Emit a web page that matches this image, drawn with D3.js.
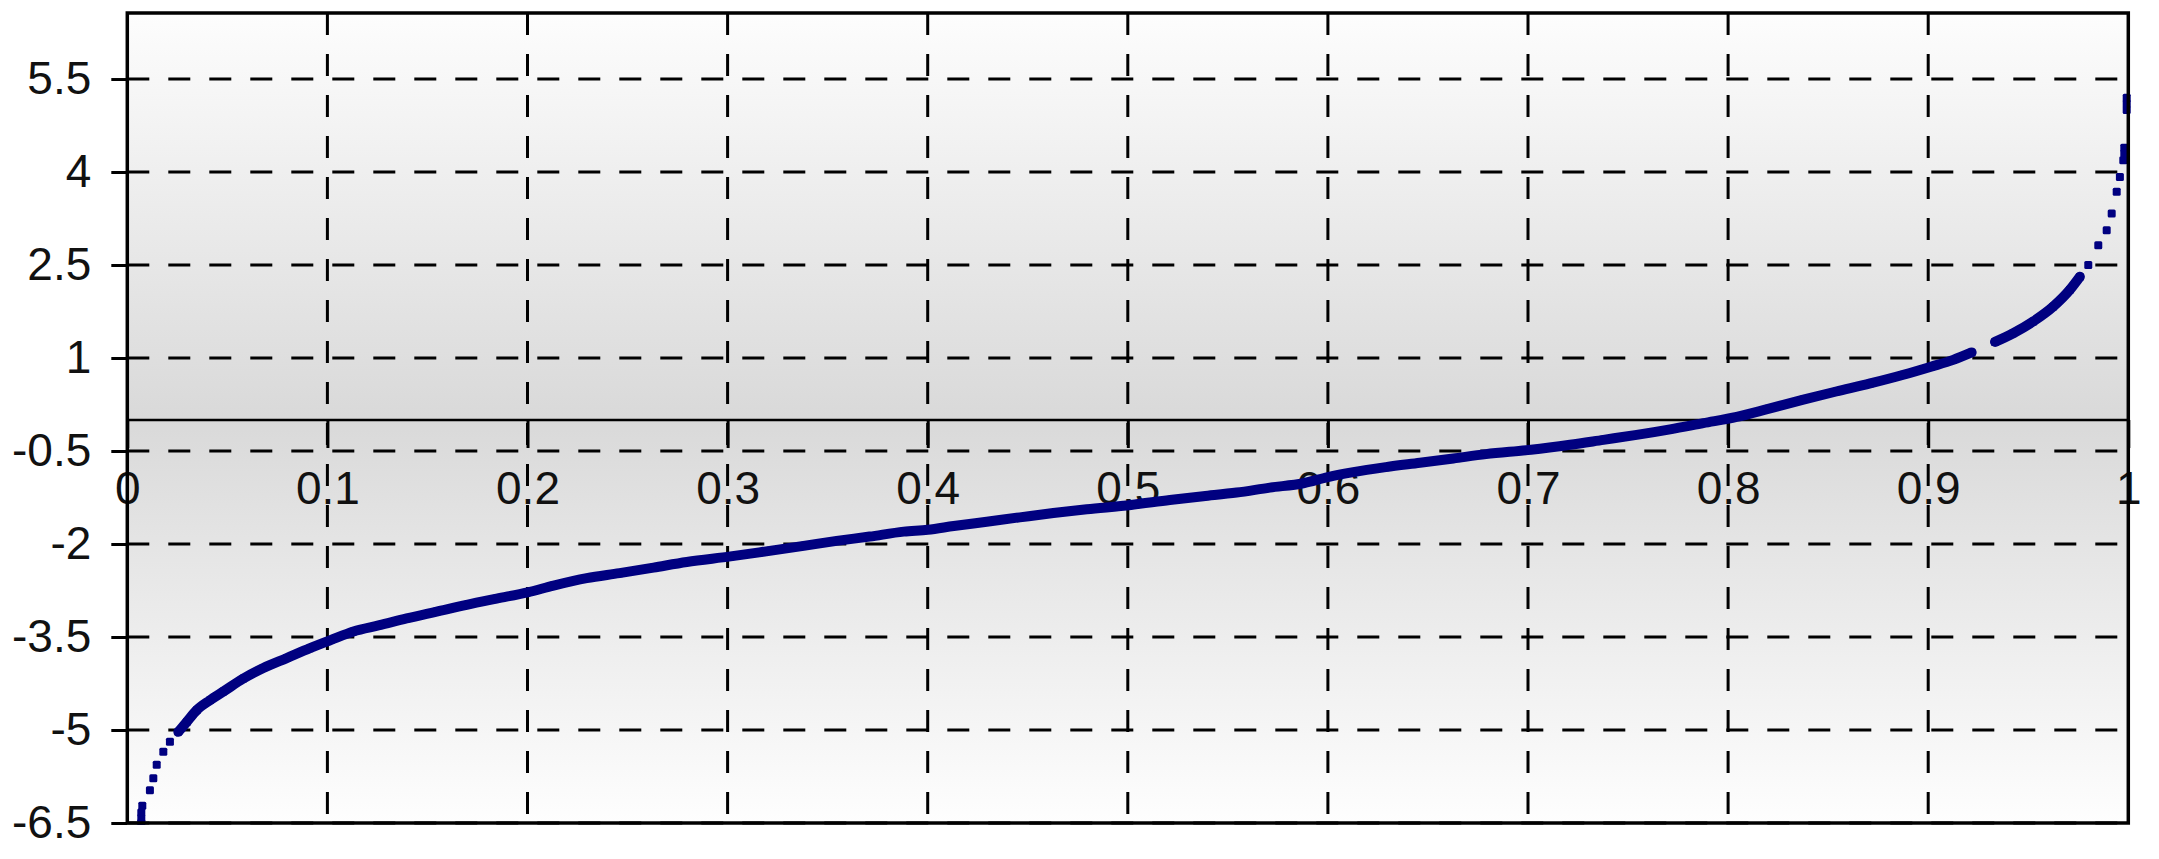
<!DOCTYPE html>
<html>
<head>
<meta charset="utf-8">
<script src="https://cdn.jsdelivr.net/npm/d3@7"></script>
<style>
  html, body { margin: 0; padding: 0; background: #ffffff; }
  svg { display: block; }
  text { font-family: "Liberation Sans", Arial, sans-serif; }
</style>
</head>
<body>
<svg id="chart" width="2159" height="859"></svg>
<script>
// ---- data ----
const quantiles = [
  0.007, 0.007, 0.007, 0.0075, 0.0113, 0.013, 0.0147, 0.018, 0.0213, 0.0255,
  0.0297, 0.0347, 0.0413, 0.048, 0.058, 0.068, 0.0797, 0.0913, 0.1016, 0.113,
  0.126, 0.1396, 0.1546, 0.1696, 0.1846, 0.2, 0.213, 0.2296, 0.246, 0.263,
  0.2796, 0.3015, 0.321, 0.338, 0.3545, 0.371, 0.388, 0.4, 0.413, 0.4295,
  0.446, 0.4628, 0.4795, 0.5016, 0.521, 0.5377, 0.5544, 0.571, 0.5877, 0.6,
  0.6127, 0.629, 0.646, 0.6627, 0.679, 0.7015, 0.721, 0.7377, 0.7543, 0.771,
  0.7876, 0.8043, 0.82, 0.8376, 0.854, 0.871, 0.8876, 0.9014, 0.9125, 0.9217,
  0.9334, 0.9425, 0.9525, 0.9625, 0.9708, 0.9758, 0.98, 0.985, 0.9892, 0.9917,
  0.9942, 0.9958, 0.9975, 0.998, 0.998, 0.9992, 0.9992, 0.9992
];
const values = [
  -6.5, -6.42, -6.33, -6.22, -5.97, -5.78, -5.56, -5.35, -5.19, -5.03,
  -4.87, -4.68, -4.52, -4.38, -4.17, -4.0, -3.84, -3.68, -3.55, -3.41,
  -3.31, -3.2, -3.09, -2.98, -2.88, -2.78, -2.67, -2.55, -2.47, -2.38,
  -2.29, -2.2, -2.11, -2.03, -1.95, -1.88, -1.8, -1.77, -1.71, -1.64,
  -1.57, -1.5, -1.44, -1.37, -1.29, -1.23, -1.17, -1.09, -1.02, -0.92,
  -0.84, -0.76, -0.69, -0.62, -0.55, -0.48, -0.40, -0.32, -0.24, -0.15,
  -0.05, 0.05, 0.18, 0.33, 0.46, 0.59, 0.73, 0.86, 0.97, 1.09,
  1.26, 1.40, 1.59, 1.83, 2.10, 2.31, 2.5, 2.82, 3.06, 3.33,
  3.68, 3.92, 4.19, 4.3, 4.39, 5.0, 5.1, 5.2
];
// dense stretches of the scatter (drawn as a continuous band)
const denseRanges = [[0.025, 0.925], [0.93, 0.977]];
const xTicks = [0, 0.1, 0.2, 0.3, 0.4, 0.5, 0.6, 0.7, 0.8, 0.9, 1];
const xTickLabels = ["0", "0.1", "0.2", "0.3", "0.4", "0.5", "0.6", "0.7", "0.8", "0.9", "1"];
const yTicks = [-6.5, -5, -3.5, -2, -0.5, 1, 2.5, 4, 5.5];
const yTickLabels = ["-6.5", "-5", "-3.5", "-2", "-0.5", "1", "2.5", "4", "5.5"];
const yMin = -6.5, yMax = 6.565;

// ---- layout ----
const pLeft = 127.3, pRight = 2128.3, pTop = 13, pBottom = 823;
const svg = d3.select("#chart");
const x = d3.scaleLinear().domain([0, 1]).range([pLeft, pRight]);
const y = d3.scaleLinear().domain([yMin, yMax]).range([pBottom, pTop]);

// background gradient
const defs = svg.append("defs");
const grad = defs.append("linearGradient").attr("id", "bg")
  .attr("x1", 0).attr("y1", 0).attr("x2", 0).attr("y2", 1);
grad.append("stop").attr("offset", "0%").attr("stop-color", "#fdfdfd");
grad.append("stop").attr("offset", "50%").attr("stop-color", "#d9d9d9");
grad.append("stop").attr("offset", "100%").attr("stop-color", "#fefefe");
defs.append("clipPath").attr("id", "clip").append("rect")
  .attr("x", pLeft).attr("y", pTop - 2).attr("width", pRight - pLeft + 4).attr("height", pBottom - pTop + 4);

svg.append("rect").attr("x", pLeft).attr("y", pTop)
  .attr("width", pRight - pLeft).attr("height", pBottom - pTop)
  .attr("fill", "url(#bg)");

// grid lines
const dash = "22,19";
svg.append("g").selectAll("line").data(yTicks).join("line")
  .attr("x1", pLeft).attr("x2", pRight)
  .attr("y1", d => y(d)).attr("y2", d => y(d))
  .attr("stroke", "#000").attr("stroke-width", 3).attr("stroke-dasharray", dash);
svg.append("g").selectAll("line").data(xTicks.slice(1, -1)).join("line")
  .attr("x1", d => x(d)).attr("x2", d => x(d))
  .attr("y1", pTop).attr("y2", pBottom)
  .attr("stroke", "#000").attr("stroke-width", 3).attr("stroke-dasharray", dash);

// y axis (ticks outside left)
const yAxis = d3.axisLeft(y).tickValues(yTicks)
  .tickFormat((d, i) => yTickLabels[i]).tickSize(16).tickPadding(20);
const gy = svg.append("g").attr("transform", `translate(${pLeft},0)`).call(yAxis);
gy.select(".domain").remove();
gy.selectAll(".tick line").attr("stroke", "#000").attr("stroke-width", 3);
gy.selectAll(".tick text").attr("font-size", 46).attr("fill", "#111")
  .attr("font-family", "'Liberation Sans', Arial, sans-serif");

// x axis at y = 0
const xAxis = d3.axisBottom(x).tickValues(xTicks)
  .tickFormat((d, i) => xTickLabels[i]).tickSize(28).tickPadding(23);
const gx = svg.append("g").attr("transform", `translate(0,${y(0)})`).call(xAxis);
gx.select(".domain").attr("stroke", "#000").attr("stroke-width", 2.5)
  .attr("d", `M${pLeft},0H${pRight}`);
gx.selectAll(".tick line").attr("stroke", "#000").attr("stroke-width", 3);
gx.selectAll(".tick text").attr("font-size", 46).attr("fill", "#111")
  .attr("font-family", "'Liberation Sans', Arial, sans-serif");

// data
const pts = quantiles.map((q, i) => ({ q, v: values[i] }));
const gData = svg.append("g").attr("clip-path", "url(#clip)");
denseRanges.forEach(([a, b]) => {
  const seg = pts.filter(p => p.q >= a && p.q <= b);
  gData.append("path").datum(seg)
    .attr("d", d3.line().x(p => x(p.q)).y(p => y(p.v)).curve(d3.curveMonotoneX))
    .attr("fill", "none").attr("stroke", "#000080").attr("stroke-width", 10)
    .attr("stroke-linecap", "round").attr("stroke-linejoin", "round");
});
gData.selectAll("rect.pt").data(pts).join("rect").attr("class", "pt")
  .attr("x", p => x(p.q) - 4).attr("y", p => y(p.v) - 4)
  .attr("width", 8).attr("height", 8).attr("rx", 1.5)
  .attr("fill", "#000080");

// plot border
svg.append("rect").attr("x", pLeft).attr("y", pTop)
  .attr("width", pRight - pLeft).attr("height", pBottom - pTop)
  .attr("fill", "none").attr("stroke", "#000").attr("stroke-width", 3.5);
</script>
</body>
</html>
